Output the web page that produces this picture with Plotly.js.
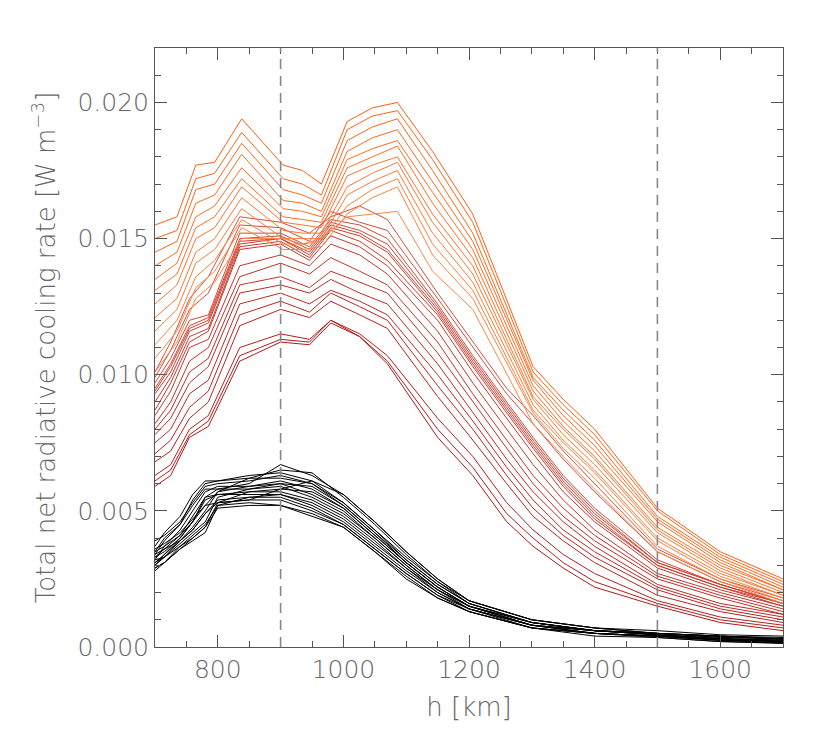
<!DOCTYPE html>
<html>
<head>
<meta charset="utf-8">
<script src="https://cdn.plot.ly/plotly-3.0.1.min.js"></script>
<style>html,body{margin:0;padding:0;background:#fff;}#chart{width:830px;height:746px;}</style>
</head>
<body>
<div id="chart"></div>
<script>
// Heights (km) at which each group of profiles is sampled
const heightsOrange = [700, 735, 765, 795, 838, 904, 935, 965, 1006, 1046, 1086, 1142, 1206, 1302, 1350, 1400, 1500, 1600, 1700];
const heightsRed = [700, 725, 755, 785, 835, 900, 946, 980, 1026, 1070, 1150, 1206, 1260, 1302, 1350, 1400, 1500, 1600, 1700];
const heightsBlack = [700, 715, 740, 760, 780, 800, 850, 900, 950, 1000, 1050, 1100, 1150, 1200, 1300, 1400, 1500, 1600, 1700];

// Total net radiative cooling rate [W m^-3]
const orangeRates = [
  [.0155,.0158,.0177,.0178,.0194,.0177,.0175,.0170,.0193,.0198,.0200,.0182,.0159,.0103,.0091,.0080,.0051,.0035,.0025],
  [.0150,.0153,.0172,.0174,.0189,.0172,.0170,.0166,.0190,.0195,.0197,.0179,.0156,.0101,.0089,.0078,.0050,.0034,.0024],
  [.0145,.0149,.0168,.0170,.0185,.0168,.0166,.0163,.0186,.0191,.0194,.0175,.0152,.0099,.0087,.0076,.0048,.0033,.0023],
  [.0140,.0145,.0163,.0166,.0181,.0164,.0163,.0160,.0182,.0187,.0190,.0171,.0149,.0098,.0085,.0074,.0047,.0032,.0022],
  [.0135,.0141,.0158,.0162,.0176,.0161,.0160,.0158,.0179,.0183,.0186,.0167,.0146,.0096,.0083,.0072,.0046,.0031,.0021],
  [.0131,.0137,.0154,.0158,.0172,.0158,.0157,.0156,.0176,.0180,.0184,.0163,.0143,.0094,.0081,.0070,.0044,.0030,.0021],
  [.0126,.0133,.0150,.0154,.0169,.0156,.0155,.0154,.0173,.0177,.0180,.0159,.0140,.0092,.0080,.0069,.0043,.0029,.0020],
  [.0121,.0128,.0145,.0150,.0165,.0153,.0152,.0152,.0169,.0174,.0178,.0156,.0137,.0091,.0078,.0067,.0042,.0028,.0019],
  [.0116,.0124,.0141,.0146,.0161,.0150,.0150,.0150,.0166,.0171,.0175,.0152,.0134,.0089,.0076,.0065,.0040,.0027,.0019],
  [.0111,.0120,.0136,.0142,.0157,.0148,.0148,.0149,.0162,.0168,.0172,.0148,.0131,.0087,.0075,.0064,.0039,.0026,.0018],
  [.0106,.0116,.0132,.0138,.0154,.0146,.0146,.0147,.0159,.0165,.0169,.0144,.0128,.0086,.0073,.0062,.0037,.0025,.0017],
  [.0101,.0112,.0128,.0134,.0150,.0150,.0148,.0150,.0158,.0159,.0160,.0138,.0124,.0082,.0070,.0058,.0035,.0024,.0016]
];
const redRates = [
  [.0101,.0112,.0128,.0136,.0158,.0156,.0152,.0158,.0162,.0157,.0130,.0112,.0095,.0085,.0072,.0060,.0036,.0025,.0018],
  [.0099,.0109,.0124,.0130,.0155,.0154,.0149,.0160,.0156,.0153,.0128,.0110,.0093,.0082,.0069,.0057,.0035,.0024,.0017],
  [.0097,.0106,.0120,.0122,.0152,.0152,.0147,.0157,.0155,.0150,.0126,.0107,.0090,.0077,.0063,.0051,.0032,.0023,.0016],
  [.0095,.0104,.0118,.0121,.0150,.0151,.0146,.0156,.0153,.0148,.0125,.0106,.0089,.0076,.0062,.0050,.0031,.0023,.0016],
  [.0094,.0103,.0117,.0120,.0149,.0150,.0145,.0155,.0152,.0146,.0124,.0105,.0088,.0075,.0061,.0049,.0031,.0023,.0016],
  [.0093,.0101,.0116,.0119,.0148,.0150,.0144,.0154,.0151,.0145,.0123,.0104,.0087,.0074,.0060,.0048,.0030,.0022,.0016],
  [.0090,.0099,.0114,.0117,.0147,.0149,.0143,.0153,.0149,.0142,.0122,.0103,.0086,.0073,.0059,.0047,.0030,.0022,.0015],
  [.0087,.0097,.0112,.0116,.0146,.0148,.0142,.0151,.0147,.0140,.0120,.0101,.0084,.0071,.0057,.0046,.0029,.0021,.0015],
  [.0085,.0094,.0110,.0113,.0140,.0144,.0140,.0148,.0144,.0137,.0116,.0097,.0080,.0067,.0054,.0043,.0027,.0020,.0014],
  [.0082,.0090,.0105,.0110,.0136,.0141,.0137,.0143,.0138,.0133,.0112,.0093,.0076,.0063,.0051,.0041,.0026,.0019,.0013],
  [.0080,.0087,.0101,.0106,.0133,.0136,.0132,.0138,.0134,.0130,.0108,.0090,.0073,.0060,.0048,.0039,.0025,.0018,.0012],
  [.0078,.0084,.0097,.0103,.0130,.0133,.0130,.0135,.0130,.0126,.0104,.0086,.0069,.0057,.0046,.0037,.0023,.0016,.0012],
  [.0075,.0080,.0093,.0098,.0126,.0130,.0126,.0131,.0127,.0122,.0100,.0083,.0066,.0054,.0043,.0035,.0022,.0015,.0011],
  [.0071,.0076,.0088,.0094,.0122,.0127,.0123,.0130,.0125,.0120,.0096,.0080,.0063,.0051,.0041,.0033,.0021,.0014,.0010],
  [.0068,.0072,.0084,.0090,.0118,.0124,.0121,.0127,.0122,.0117,.0092,.0076,.0060,.0048,.0039,.0031,.0019,.0013,.0009],
  [.0063,.0067,.0080,.0085,.0110,.0115,.0113,.0120,.0115,.0107,.0084,.0070,.0053,.0043,.0034,.0027,.0017,.0011,.0008],
  [.0061,.0065,.0078,.0083,.0107,.0113,.0112,.0120,.0114,.0105,.0080,.0066,.0049,.0040,.0031,.0024,.0016,.0010,.0007],
  [.0059,.0063,.0077,.0081,.0105,.0112,.0111,.0119,.0114,.0104,.0077,.0063,.0046,.0037,.0029,.0022,.0015,.0009,.0006]
];
const blackRates = [
  [.0033,.0036,.0041,.0046,.0055,.0058,.0060,.0067,.0063,.0056,.0046,.0035,.0025,.0017,.0010,.0007,.0006,.00045,.0004],
  [.0035,.0040,.0045,.0054,.0060,.0061,.0062,.0065,.0064,.0055,.0045,.0034,.0024,.0017,.0010,.0007,.0005,.0004,.00035],
  [.0037,.0042,.0048,.0056,.0061,.0061,.0063,.0064,.0061,.0053,.0043,.0033,.0024,.0016,.0009,.0006,.0005,.0004,.0003],
  [.0039,.0041,.0046,.0053,.0059,.0060,.0061,.0063,.0060,.0052,.0042,.0032,.0023,.0016,.0009,.0006,.0005,.0004,.0003],
  [.0031,.0034,.0039,.0044,.0050,.0057,.0062,.0062,.0060,.0053,.0043,.0032,.0023,.0016,.0009,.0006,.0005,.00035,.0003],
  [.0032,.0037,.0043,.0050,.0057,.0059,.0059,.0061,.0058,.0051,.0041,.0031,.0022,.0015,.0009,.0006,.0005,.00035,.0003],
  [.0036,.0038,.0042,.0047,.0052,.0057,.0059,.0060,.0059,.0052,.0042,.0031,.0022,.0015,.0009,.0006,.00045,.0003,.00025],
  [.0030,.0033,.0038,.0042,.0046,.0055,.0058,.0060,.0056,.0050,.0040,.0030,.0021,.0015,.0008,.0006,.00045,.0003,.00025],
  [.0034,.0039,.0045,.0052,.0058,.0058,.0058,.0059,.0055,.0049,.0040,.0030,.0021,.0015,.0008,.0006,.00045,.0003,.00025],
  [.0029,.0031,.0037,.0040,.0044,.0053,.0057,.0058,.0057,.0051,.0041,.0031,.0022,.0015,.0008,.0006,.00045,.0003,.0002],
  [.0033,.0035,.0040,.0046,.0054,.0056,.0057,.0057,.0054,.0048,.0039,.0029,.0021,.0014,.0008,.0005,.0004,.0003,.0002],
  [.0028,.0031,.0036,.0039,.0042,.0052,.0055,.0056,.0053,.0047,.0038,.0029,.0020,.0014,.0008,.0005,.0004,.0003,.0002],
  [.0035,.0037,.0041,.0048,.0055,.0056,.0056,.0056,.0052,.0046,.0037,.0028,.0020,.0014,.0008,.0005,.0004,.00025,.0002],
  [.0031,.0033,.0039,.0043,.0049,.0054,.0055,.0055,.0051,.0045,.0036,.0027,.0019,.0014,.0007,.0005,.0004,.00025,.00015],
  [.0030,.0034,.0040,.0046,.0052,.0053,.0054,.0054,.0050,.0045,.0036,.0027,.0019,.0013,.0007,.0005,.0004,.00025,.00015],
  [.0032,.0033,.0037,.0041,.0045,.0052,.0053,.0052,.0049,.0044,.0035,.0026,.0018,.0013,.0007,.0005,.00035,.0002,.00015],
  [.0029,.0031,.0036,.0040,.0044,.0051,.0052,.0052,.0048,.0044,.0035,.0025,.0018,.0013,.0007,.0004,.00035,.0002,.00013],
  [.0034,.0036,.0039,.0043,.0049,.0053,.0054,.0058,.0061,.0056,.0046,.0035,.0025,.0017,.0010,.0007,.0005,.0004,.0003]
];
// Reference heights marked with dashed lines
const markedHeights = [900, 1500];

const xTickVals = [800, 1000, 1200, 1400, 1600];
const yTickVals = [0.000, 0.005, 0.010, 0.015, 0.020];

function lerpColor(a, b, t) {
  return 'rgb(' + a.map((v, i) => Math.round(v + (b[i] - v) * t)).join(',') + ')';
}

const traces = [];
blackRates.forEach(function (ys) {
  traces.push({x: heightsBlack, y: ys, type: 'scatter', mode: 'lines',
    line: {color: '#000', width: 1}, hoverinfo: 'skip', showlegend: false});
});
redRates.forEach(function (ys, i) {
  const t = i / (redRates.length - 1);
  traces.push({x: heightsRed, y: ys, type: 'scatter', mode: 'lines',
    line: {color: lerpColor([215, 80, 60], [175, 25, 25], t), width: 1}, hoverinfo: 'skip', showlegend: false});
});
orangeRates.forEach(function (ys, i) {
  const t = i / (orangeRates.length - 1);
  traces.push({x: heightsOrange, y: ys, type: 'scatter', mode: 'lines',
    line: {color: lerpColor([255, 95, 15], [250, 135, 70], t), width: 1}, hoverinfo: 'skip', showlegend: false});
});

const fontFam = '"DejaVu Sans", sans-serif';
const axisCommon = {
  showgrid: false, zeroline: false, showline: true, linecolor: '#555', linewidth: 1,
  mirror: 'ticks', ticks: 'inside', ticklen: 12, tickwidth: 1, tickcolor: '#555',
  tickfont: {family: fontFam, size: 25, color: '#666', weight: 200}
};

const layout = {
  width: 830, height: 746,
  margin: {l: 155, r: 47, t: 48, b: 99, pad: 0},
  paper_bgcolor: '#fff', plot_bgcolor: '#fff',
  xaxis: Object.assign({}, axisCommon, {
    range: [700, 1700], tickvals: xTickVals, ticktext: xTickVals.map(String),
    minor: {dtick: 50, tick0: 700, ticklen: 6, ticks: 'inside', tickcolor: '#555', tickwidth: 1},
    title: {text: 'h [km]', font: {family: fontFam, size: 26, color: '#666', weight: 200}, standoff: 14}
  }),
  yaxis: Object.assign({}, axisCommon, {
    range: [0, 0.022], tickvals: yTickVals, ticktext: yTickVals.map(v => v.toFixed(3)),
    minor: {dtick: 0.001, tick0: 0, ticklen: 6, ticks: 'inside', tickcolor: '#555', tickwidth: 1},
    title: {text: 'Total net radiative cooling rate [W m<sup>−3</sup>]', font: {family: fontFam, size: 26, color: '#666', weight: 200}, standoff: 14}
  }),
  shapes: markedHeights.map(h => ({type: 'line', xref: 'x', yref: 'paper', x0: h, x1: h, y0: 0, y1: 1,
    line: {color: '#888', width: 1.6, dash: '10px,7px'}, layer: 'above'}))
};

Plotly.newPlot('chart', traces, layout, {staticPlot: true, displayModeBar: false});
</script>
</body>
</html>
